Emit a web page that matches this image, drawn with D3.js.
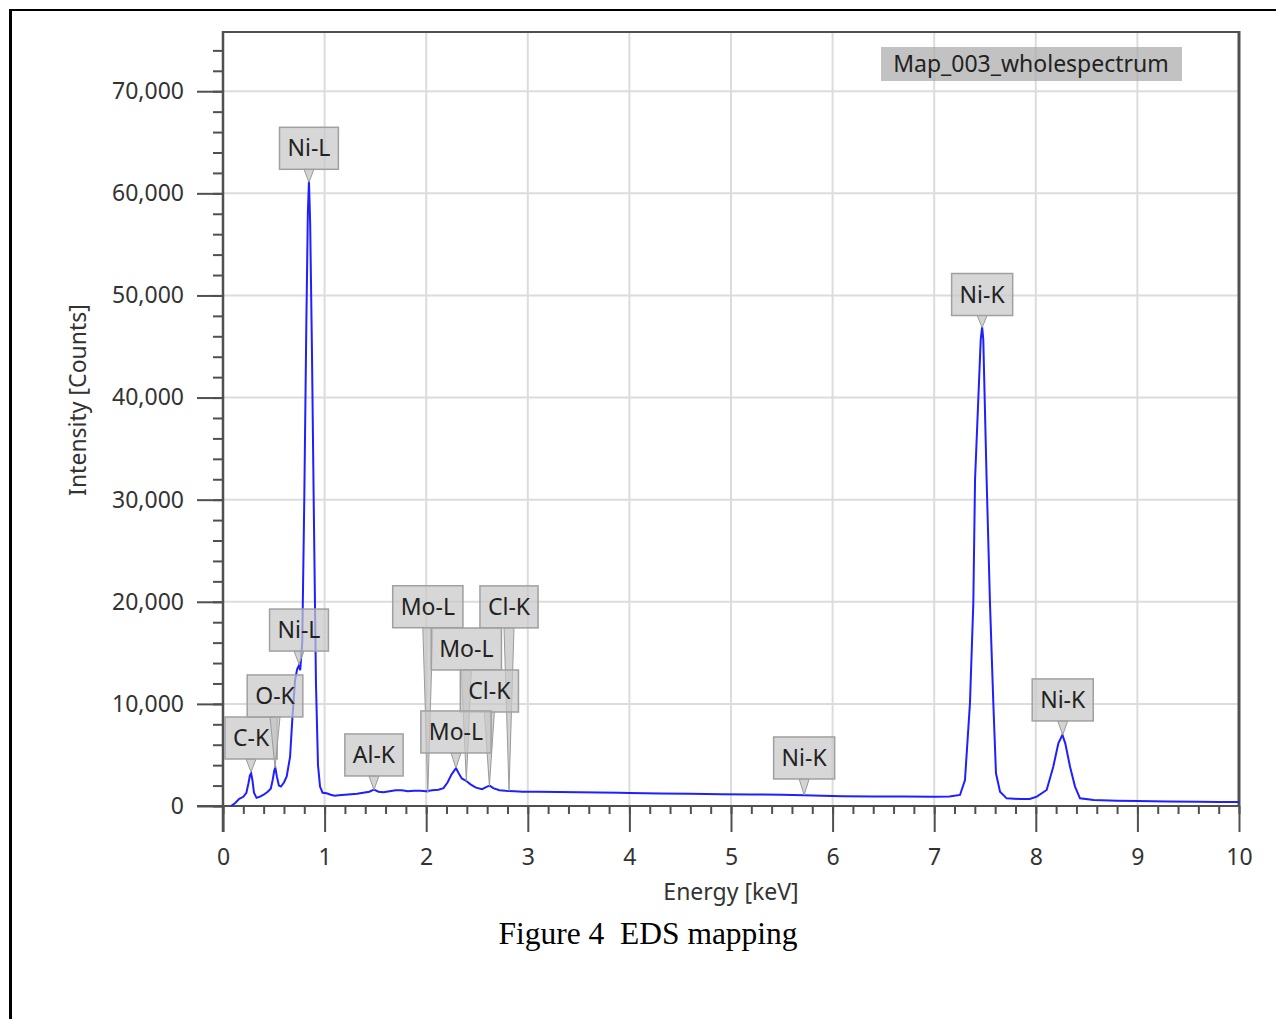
<html>
<head>
<script src="https://d3js.org/d3.v7.min.js"></script>
<style>
  body { margin: 0; background: #fff; }
  text { font-family: "Noto Sans", "Open Sans", sans-serif; }
</style>
</head>
<body>
<div id="chart"></div>
<script>
// spectrum (keV, counts)
var energy = [0.08, 0.12, 0.16, 0.20, 0.23, 0.25, 0.265, 0.277, 0.29, 0.305, 0.33, 0.36, 0.40, 0.44, 0.47, 0.49, 0.505, 0.515, 0.53, 0.55,
  0.57, 0.60, 0.627, 0.66, 0.686, 0.709, 0.73, 0.745, 0.76, 0.78, 0.80, 0.82, 0.835, 0.846, 0.858, 0.875, 0.895, 0.915, 0.935, 0.955,
  0.98, 1.02, 1.06, 1.10, 1.14, 1.20, 1.26, 1.32, 1.38, 1.44, 1.486, 1.53, 1.58, 1.64, 1.70, 1.76, 1.82, 1.88, 1.94, 2.00,
  2.06, 2.12, 2.17, 2.21, 2.25, 2.293, 2.32, 2.35, 2.395, 2.44, 2.49, 2.55, 2.60, 2.625, 2.66, 2.72, 2.78, 2.815, 2.87, 2.95,
  3.1, 3.3, 3.5, 3.7, 3.9, 4.0, 4.3, 4.6, 4.9, 5.2, 5.5, 5.72, 5.9, 6.1, 6.4, 6.7, 7.0, 7.15, 7.254, 7.303,
  7.352, 7.385, 7.402, 7.458, 7.472, 7.483, 7.516, 7.549, 7.582, 7.608, 7.648, 7.713, 7.85, 7.94, 8.01, 8.107, 8.172, 8.222, 8.262, 8.29,
  8.337, 8.386, 8.435, 8.57, 8.8, 9.0, 9.3, 9.6, 9.8, 10.0];
var counts = [0, 300, 700, 900, 1300, 2200, 3000, 3200, 2500, 1300, 800, 900, 1100, 1400, 1700, 2600, 3500, 3750, 2900, 2000,
  1900, 2300, 2900, 4800, 9100, 12300, 13400, 13700, 13300, 16000, 30000, 47000, 58000, 61200, 57000, 45000, 28000, 12000, 4000, 1900,
  1300, 1250, 1100, 1000, 1050, 1100, 1150, 1200, 1300, 1400, 1600, 1400, 1350, 1450, 1550, 1550, 1450, 1500, 1500, 1450,
  1550, 1600, 1750, 2300, 3100, 3700, 3200, 2700, 2450, 2100, 1800, 1650, 1900, 2000, 1750, 1550, 1500, 1480, 1450, 1400,
  1400, 1380, 1350, 1330, 1300, 1280, 1230, 1200, 1150, 1130, 1100, 1050, 1000, 950, 930, 920, 900, 920, 1080, 2550,
  10070, 19870, 31960, 45700, 46900, 45700, 31960, 19870, 10070, 3200, 1400, 750, 680, 690, 920, 1570, 3850, 6140, 6960, 6140,
  3850, 1900, 750, 590, 520, 480, 450, 420, 400, 380];

var xTicks = [0, 1, 2, 3, 4, 5, 6, 7, 8, 9, 10];
var yTicks = [0, 10000, 20000, 30000, 40000, 50000, 60000, 70000];

// peak markers
var peakNames = ["Mo-L", "Cl-K", "Mo-L", "Cl-K", "Mo-L", "C-K", "O-K", "Ni-L", "Ni-L", "Al-K", "Ni-K", "Ni-K", "Ni-K"];
var peakEnergy = [2.016, 2.815, 2.395, 2.622, 2.293, 0.276, 0.512, 0.748, 0.846, 1.486, 5.72, 7.472, 8.265];
var peakCounts = [1300, 1480, 2450, 1960, 3725, 3330, 3725, 13900, 61080, 1570, 1080, 46860, 6960];
// how far each label box sits above its peak (px)
var labelLift = [165, 163, 111, 74, 15, 13, 51, 13, 13, 14, 16, 12, 14];

var W = 1277, H = 1019;
var svg = d3.select("#chart").append("svg").attr("width", W).attr("height", H);

// page frame
svg.append("line").attr("x1", 10).attr("y1", 10).attr("x2", 1276).attr("y2", 10).attr("stroke", "#000").attr("stroke-width", 2);
svg.append("line").attr("x1", 10.5).attr("y1", 9).attr("x2", 10.5).attr("y2", H).attr("stroke", "#000").attr("stroke-width", 3);

var x = d3.scaleLinear().domain([0, 10]).range([223, 1239]);
var y = d3.scaleLinear().domain([0, 75800]).range([806, 32]);

// grid
svg.append("g").selectAll("line").data(xTicks.slice(1, 10)).enter().append("line")
  .attr("x1", d => x(d)).attr("x2", d => x(d)).attr("y1", 32).attr("y2", 806)
  .attr("stroke", "#dcdcdc").attr("stroke-width", 2);
svg.append("g").selectAll("line").data(yTicks.slice(1)).enter().append("line")
  .attr("x1", 223).attr("x2", 1239).attr("y1", d => y(d)).attr("y2", d => y(d))
  .attr("stroke", "#dcdcdc").attr("stroke-width", 2);

// axes
var axisColor = "#505050";
var yMinor = svg.append("g").attr("transform", "translate(223,0)")
  .call(d3.axisLeft(y).tickValues(d3.range(0, 76000, 2000)).tickSize(10).tickFormat(""));
var yMajor = svg.append("g").attr("transform", "translate(223,0)")
  .call(d3.axisLeft(y).tickValues(yTicks).tickSize(26).tickPadding(13).tickFormat(d3.format(",")));
var xMinor = svg.append("g").attr("transform", "translate(0,806)")
  .call(d3.axisBottom(x).tickValues(d3.range(0, 10.01, 0.2)).tickSize(8).tickFormat(""));
var xMajor = svg.append("g").attr("transform", "translate(0,806)")
  .call(d3.axisBottom(x).tickValues(xTicks).tickSize(26).tickPadding(17).tickFormat(d3.format("d")));

[yMinor, yMajor, xMinor, xMajor].forEach(function(g) {
  g.select(".domain").remove();
  g.selectAll(".tick line").attr("stroke", axisColor).attr("stroke-width", 2);
  g.selectAll(".tick text").attr("fill", "#333").style("font-size", "23px")
    .style("font-family", '"Noto Sans", sans-serif');
});

// plot frame
svg.append("line").attr("x1", 223).attr("y1", 31).attr("x2", 223).attr("y2", 832).attr("stroke", axisColor).attr("stroke-width", 2.5);
svg.append("line").attr("x1", 222).attr("y1", 32).attr("x2", 1239).attr("y2", 32).attr("stroke", axisColor).attr("stroke-width", 2);
svg.append("line").attr("x1", 1239).attr("y1", 31).attr("x2", 1239).attr("y2", 806).attr("stroke", axisColor).attr("stroke-width", 3);
svg.append("line").attr("x1", 197).attr("y1", 806).attr("x2", 1240).attr("y2", 806).attr("stroke", axisColor).attr("stroke-width", 2);

// axis titles
svg.append("text").attr("transform", "translate(86,400) rotate(-90)").attr("text-anchor", "middle")
  .attr("fill", "#333").style("font-size", "23px").text("Intensity [Counts]");
svg.append("text").attr("x", 731).attr("y", 900).attr("text-anchor", "middle")
  .attr("fill", "#333").style("font-size", "23px").text("Energy [keV]");

// spectrum
var pts = energy.map((e, i) => [e, counts[i]]);
svg.append("path").datum(pts)
  .attr("d", d3.line().x(d => x(d[0])).y(d => y(d[1])))
  .attr("fill", "none").attr("stroke", "#1f1fff").attr("stroke-width", 2);

// legend
svg.append("rect").attr("x", 881).attr("y", 47).attr("width", 301).attr("height", 34)
  .attr("fill", "#a8a8a8").attr("fill-opacity", 0.7);
svg.append("text").attr("x", 1031).attr("y", 72).attr("text-anchor", "middle")
  .attr("fill", "#222").style("font-size", "23px").text("Map_003_wholespectrum");

// peak labels
var labels = svg.append("g");
peakNames.forEach(function(name, i) {
  var cx = x(peakEnergy[i]);
  var tip = y(peakCounts[i]);
  var bottom = tip - labelLift[i];
  var g = labels.append("g");
  var t = g.append("text").attr("x", cx).attr("y", bottom - 13).attr("text-anchor", "middle")
    .attr("fill", "#222").style("font-size", "23px").text(name);
  var w = t.node().getComputedTextLength() + 16;
  g.insert("path", "text")
    .attr("d", "M" + (cx - 5) + "," + bottom + "L" + cx + "," + tip + "L" + (cx + 5) + "," + bottom + "Z")
    .attr("fill", "#c4c4c4").attr("fill-opacity", 0.75).attr("stroke", "#9a9a9a").attr("stroke-width", 1);
  g.insert("rect", "text").attr("x", cx - w / 2).attr("y", bottom - 42).attr("width", w).attr("height", 42)
    .attr("fill", "#c8c8c8").attr("fill-opacity", 0.72).attr("stroke", "#a0a0a0").attr("stroke-width", 1.5);
});

// caption
svg.append("text").attr("x", 648).attr("y", 944).attr("text-anchor", "middle")
  .style("font-family", '"Liberation Serif", "Times New Roman", serif').style("font-size", "31.5px")
  .style("white-space", "pre").attr("fill", "#000").text("Figure 4  EDS mapping");
</script>
</body>
</html>
